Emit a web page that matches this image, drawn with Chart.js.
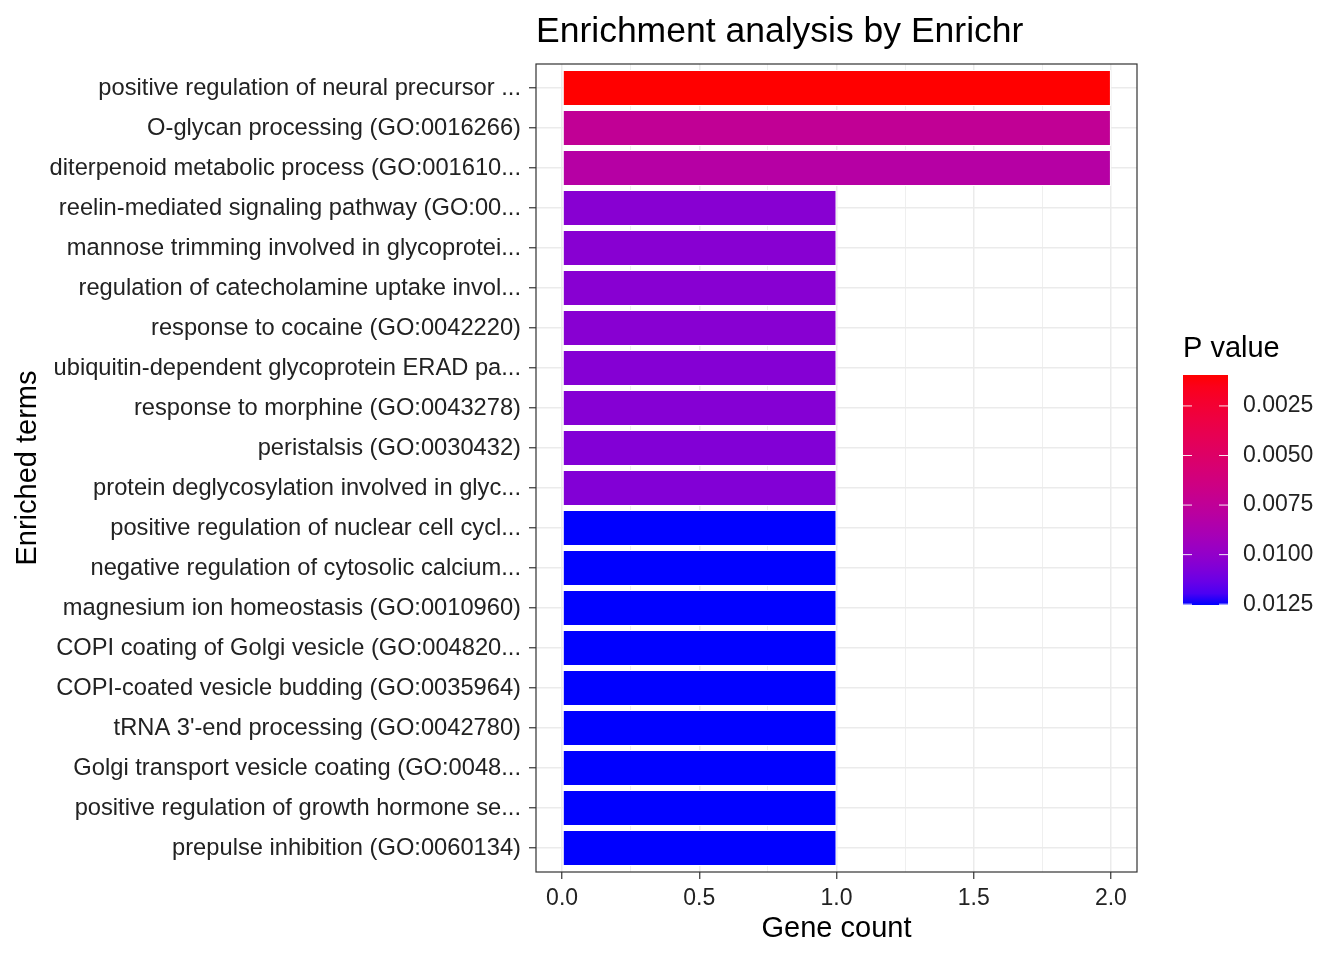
<!DOCTYPE html>
<html lang="en">
<head>
  <meta charset="UTF-8">
  <title>Enrichment analysis by Enrichr</title>
  <script src="https://cdn.jsdelivr.net/npm/chart.js"></script>
  <style>
    html, body { margin: 0; padding: 0; background: #fff; }
    #wrap { width: 1344px; height: 960px; }
  </style>
</head>
<body>
  <div id="wrap"><canvas id="enrichChart" width="1344" height="960"></canvas></div>

  <script>
    // Enriched terms, top to bottom
    var terms = [
      'positive regulation of neural precursor ...',
      'O-glycan processing (GO:0016266)',
      'diterpenoid metabolic process (GO:001610...',
      'reelin-mediated signaling pathway (GO:00...',
      'mannose trimming involved in glycoprotei...',
      'regulation of catecholamine uptake invol...',
      'response to cocaine (GO:0042220)',
      'ubiquitin-dependent glycoprotein ERAD pa...',
      'response to morphine (GO:0043278)',
      'peristalsis (GO:0030432)',
      'protein deglycosylation involved in glyc...',
      'positive regulation of nuclear cell cycl...',
      'negative regulation of cytosolic calcium...',
      'magnesium ion homeostasis (GO:0010960)',
      'COPI coating of Golgi vesicle (GO:004820...',
      'COPI-coated vesicle budding (GO:0035964)',
      'tRNA 3\'-end processing (GO:0042780)',
      'Golgi transport vesicle coating (GO:0048...',
      'positive regulation of growth hormone se...',
      'prepulse inhibition (GO:0060134)'
    ];
    var geneCounts = [2, 2, 2, 1, 1, 1, 1, 1, 1, 1, 1, 1, 1, 1, 1, 1, 1, 1, 1, 1];
    var pValues = [0.00094, 0.00738, 0.00813, 0.0104, 0.0104, 0.0104, 0.0104, 0.0105,
                   0.0105, 0.0106, 0.0106, 0.01254, 0.01254, 0.01254, 0.01254, 0.01254,
                   0.01254, 0.01254, 0.01254, 0.01254];
    var xTicks = [0, 0.25, 0.5, 0.75, 1, 1.25, 1.5, 1.75, 2];
    var legendTicks = [0.0025, 0.0050, 0.0075, 0.0100, 0.0125];

    var FONT = "'Liberation Sans', Arial, Helvetica, sans-serif";
    var pMin = Math.min.apply(null, pValues);
    var pMax = Math.max.apply(null, pValues);

    // red -> blue gradient in Lab space, like ggplot's scale_fill_gradient
    function toLin(c) { c /= 255; return c <= 0.04045 ? c / 12.92 : Math.pow((c + 0.055) / 1.055, 2.4); }
    function fromLin(c) { c = c <= 0.0031308 ? 12.92 * c : 1.055 * Math.pow(c, 1 / 2.4) - 0.055; return Math.round(Math.max(0, Math.min(1, c)) * 255); }
    function rgbToLab(rgb) {
      var r = toLin(rgb[0]), g = toLin(rgb[1]), b = toLin(rgb[2]);
      var x = (0.4124 * r + 0.3576 * g + 0.1805 * b) / 0.95047;
      var y = 0.2126 * r + 0.7152 * g + 0.0722 * b;
      var z = (0.0193 * r + 0.1192 * g + 0.9505 * b) / 1.08883;
      var f = function(t) { return t > 0.008856 ? Math.cbrt(t) : 7.787 * t + 16 / 116; };
      var fx = f(x), fy = f(y), fz = f(z);
      return [116 * fy - 16, 500 * (fx - fy), 200 * (fy - fz)];
    }
    function labToRgb(lab) {
      var fy = (lab[0] + 16) / 116, fx = fy + lab[1] / 500, fz = fy - lab[2] / 200;
      var inv = function(t) { return t * t * t > 0.008856 ? t * t * t : (t - 16 / 116) / 7.787; };
      var x = inv(fx) * 0.95047, y = inv(fy), z = inv(fz) * 1.08883;
      var r = 3.2406 * x - 1.5372 * y - 0.4986 * z;
      var g = -0.9689 * x + 1.8758 * y + 0.0415 * z;
      var b = 0.0557 * x - 0.2040 * y + 1.0570 * z;
      return 'rgb(' + fromLin(r) + ',' + fromLin(g) + ',' + fromLin(b) + ')';
    }
    var labLow = rgbToLab([255, 0, 0]);
    var labHigh = rgbToLab([0, 0, 255]);
    function colorFor(p) {
      var t = (p - pMin) / (pMax - pMin);
      t = Math.max(0, Math.min(1, t));
      return labToRgb([0, 1, 2].map(function(i) { return labLow[i] + (labHigh[i] - labLow[i]) * t; }));
    }

    // panel border, title and colour bar legend
    var decorations = {
      id: 'decorations',
      afterDraw: function(chart) {
        var ctx = chart.ctx, a = chart.chartArea;
        ctx.save();
        ctx.strokeStyle = '#333333';
        ctx.lineWidth = 1.2;
        ctx.strokeRect(a.left, a.top, a.right - a.left, a.bottom - a.top);

        ctx.fillStyle = '#000';
        ctx.textAlign = 'left';
        ctx.textBaseline = 'alphabetic';
        ctx.font = '35.5px ' + FONT;
        ctx.fillText('Enrichment analysis by Enrichr', a.left, 42);

        // legend
        var bx = 1183, bw = 45, by = 375, bh = 230;
        ctx.font = '29px ' + FONT;
        ctx.fillText('P value', bx, 357);
        var grad = ctx.createLinearGradient(0, by, 0, by + bh);
        for (var i = 0; i <= 20; i++) {
          grad.addColorStop(i / 20, colorFor(pMin + (pMax - pMin) * i / 20));
        }
        ctx.fillStyle = grad;
        ctx.fillRect(bx, by, bw, bh);
        ctx.font = '23px ' + FONT;
        ctx.textBaseline = 'middle';
        legendTicks.forEach(function(v) {
          var y = by + (v - pMin) / (pMax - pMin) * bh;
          ctx.strokeStyle = 'rgba(255,255,255,0.9)';
          ctx.lineWidth = 1;
          ctx.beginPath();
          ctx.moveTo(bx, y); ctx.lineTo(bx + 9, y);
          ctx.moveTo(bx + bw - 9, y); ctx.lineTo(bx + bw, y);
          ctx.stroke();
          ctx.fillStyle = '#222';
          ctx.fillText(v.toFixed(4), 1243, y);
        });
        ctx.restore();
      }
    };

    var ctx = document.getElementById('enrichChart').getContext('2d');
    new Chart(ctx, {
      type: 'bar',
      data: {
        datasets: [{
          label: 'Gene count',
          data: geneCounts.map(function(c, i) { return { x: c, y: i }; }),
          backgroundColor: pValues.map(colorFor),
          borderColor: '#ffffff',
          borderWidth: 1,
          borderSkipped: false,
          barPercentage: 0.9,
          categoryPercentage: 1.0
        }]
      },
      options: {
        indexAxis: 'y',
        responsive: false,
        animation: false,
        layout: { padding: { top: 64, right: 207, bottom: 0, left: 0 } },
        plugins: {
          legend: { display: false },
          tooltip: { enabled: false }
        },
        scales: {
          x: {
            type: 'linear',
            min: -0.095,
            max: 2.095,
            afterBuildTicks: function(axis) {
              axis.ticks = xTicks.map(function(v) { return { value: v }; });
            },
            afterFit: function(axis) { axis.height = 88; },
            border: { display: false },
            grid: {
              color: '#EBEBEB',
              lineWidth: function(c) { return c.tick && c.tick.value % 0.5 === 0 ? 1.5 : 0.8; },
              tickColor: function(c) { return c.tick && c.tick.value % 0.5 === 0 ? '#333333' : 'rgba(0,0,0,0)'; },
              tickLength: 7,
              tickWidth: 1.2
            },
            ticks: {
              autoSkip: false,
              maxRotation: 0,
              padding: 6,
              color: '#222',
              font: { family: FONT, size: 23 },
              callback: function(v) { return v % 0.5 === 0 ? v.toFixed(1) : ''; }
            },
            title: {
              display: true,
              text: 'Gene count',
              color: '#000',
              font: { family: FONT, size: 29 },
              padding: { top: 0, bottom: 14 }
            }
          },
          y: {
            type: 'linear',
            reverse: true,
            offset: false,
            min: -0.6,
            max: terms.length - 0.4,
            afterBuildTicks: function(axis) {
              axis.ticks = terms.map(function(t, i) { return { value: i }; });
            },
            afterFit: function(axis) { axis.width = 536; },
            border: { display: false },
            grid: {
              offset: false,
              color: '#EBEBEB',
              lineWidth: 1.5,
              tickColor: '#333333',
              tickLength: 7,
              tickWidth: 1.2
            },
            ticks: {
              autoSkip: false,
              padding: 8,
              color: '#222',
              font: { family: FONT, size: 23.7 },
              callback: function(v) { return terms[v]; }
            },
            title: {
              display: true,
              text: 'Enriched terms',
              color: '#000',
              font: { family: FONT, size: 29 },
              padding: { top: 11, bottom: 0 }
            }
          }
        }
      },
      plugins: [decorations]
    });
  </script>
</body>
</html>
